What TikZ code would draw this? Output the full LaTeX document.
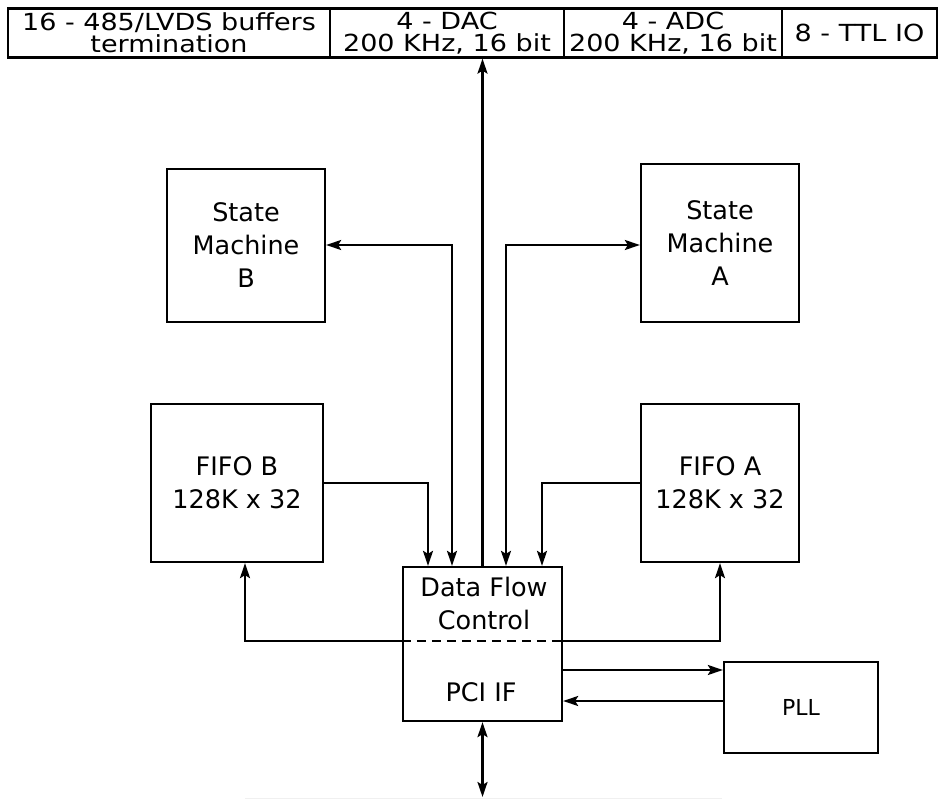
\documentclass[tikz,border=0pt]{standalone}
\usepackage{fontspec}
\setmainfont{DejaVu Sans}
\newfontfamily\widefont[FakeStretch=1.15]{DejaVu Sans}
\usetikzlibrary{arrows.meta}
\tikzset{
  box/.style={draw, line width=2.3pt, rectangle, inner sep=0pt, align=center, font=\fontsize{25.5}{33}\selectfont},
  cell/.style={draw, line width=2.3pt, rectangle, inner sep=0pt, align=center, minimum height=49pt, font=\widefont\fontsize{23.5}{22}\selectfont},
  lbl/.style={inner sep=0pt, align=center, font=\fontsize{25.5}{33}\selectfont},
  conn/.style={line width=2.3pt},
  tip/.tip={Stealth[length=15pt,width=10pt,inset=3pt]},
  arr/.style={conn, -tip},
  darr/.style={conn, tip-tip},
}
\begin{document}
\begin{tikzpicture}[x=1pt,y=-1pt]
\useasboundingbox (0,0) rectangle (947,799);
% top row
\node[cell, minimum width=322pt] (buf) at (169,33) {16 - 485/LVDS buffers\\termination};
\node[cell, minimum width=234pt] (dac) at (447,33) {4 - DAC\\200 KHz, 16 bit};
\node[cell, minimum width=218pt] (adc) at (673,33) {4 - ADC\\200 KHz, 16 bit};
\node[cell, minimum width=155pt] (ttl) at (859.5,33) {8 - TTL IO};
% blocks
\node[box, minimum width=158pt, minimum height=153pt] (smB) at (246,245.5) {State\\Machine\\B};
\node[box, minimum width=158pt, minimum height=158pt] (smA) at (720,243) {State\\Machine\\A};
\node[box, minimum width=172pt, minimum height=158pt] (fifoB) at (237,483) {FIFO B\\128K x 32};
\node[box, minimum width=158pt, minimum height=158pt] (fifoA) at (720,483) {FIFO A\\128K x 32};
\node[box, minimum width=159pt, minimum height=154pt] (ctl) at (482.5,644) {};
\node[lbl] (dfc) at (484,603) {Data Flow\\Control};
\node[lbl] (pci) at (481,692) {PCI IF};
\node[box, minimum width=154pt, minimum height=91pt, font=\fontsize{22}{24}\selectfont] (pll) at (801,707.5) {PLL};
\coordinate (bot) at (482.5,797);
% divider
\draw[conn, dash pattern=on 9pt off 6pt] (ctl.west |- 0,641) -- (ctl.east |- 0,641);
% connectors
\draw[arr] (ctl.north) -- (ctl.north |- dac.south);
\draw[arr] (fifoB.east) -| ([xshift=-54.5pt]ctl.north);
\draw[arr] (fifoA.west) -| ([xshift=59.5pt]ctl.north);
\draw[darr] (smB.east |- 0,245) -| ([xshift=-30.5pt]ctl.north);
\draw[darr] (smA.west |- 0,245) -| ([xshift=23.5pt]ctl.north);
\draw[arr] (ctl.west |- 0,641) -| ([xshift=8pt]fifoB.south);
\draw[arr] (ctl.east |- 0,641) -| (fifoA.south);
\draw[arr] (ctl.east |- 0,670) -- (pll.west |- 0,670);
\draw[arr] (pll.west |- 0,701) -- (ctl.east |- 0,701);
\draw[darr] (ctl.south) -- (bot);
\draw[gray!12, line width=1pt] (245,798) -- (722,798);
\end{tikzpicture}
\end{document}
